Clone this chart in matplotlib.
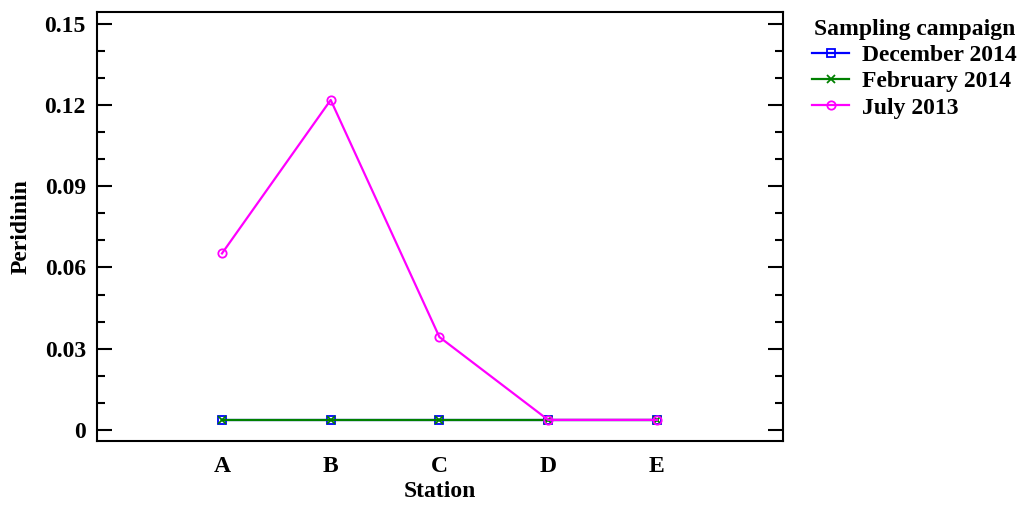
import matplotlib.pyplot as plt
from matplotlib.ticker import MultipleLocator

stations = ['A', 'B', 'C', 'D', 'E']
dec_2014 = [0.0037, 0.0037, 0.0037, 0.0037, 0.0037]
feb_2014 = [0.0037, 0.0037, 0.0037, 0.0037, 0.0037]
jul_2013 = [0.0652, 0.1219, 0.0343, 0.0037, 0.0037]

plt.rcParams['font.family'] = ['Liberation Serif', 'DejaVu Serif']
plt.rcParams['font.weight'] = 'bold'

fig = plt.figure(figsize=(10.27, 5.08), dpi=100)
ax = fig.add_axes([0.0944, 0.1319, 0.668, 0.8445])

x = list(range(len(stations)))
ax.plot(x, dec_2014, color='blue', lw=1.6, marker='s', ms=6, mfc='none', mew=1.3, label='December 2014')
ax.plot(x, feb_2014, color='green', lw=1.6, marker='x', ms=6, mew=1.3, label='February 2014')
ax.plot(x, jul_2013, color='magenta', lw=1.6, marker='o', ms=6, mfc='none', mew=1.3, label='July 2013')

ax.set_xlim(-1.15, 5.16)
ax.set_ylim(-0.0041, 0.1544)
ax.set_xticks(x)
ax.set_xticklabels(stations)
ax.yaxis.set_major_locator(MultipleLocator(0.03))
ax.yaxis.set_minor_locator(MultipleLocator(0.01))
ax.yaxis.set_major_formatter(plt.FuncFormatter(lambda v, p: '0' if abs(v) < 1e-9 else ('%.2f' % v)))

ax.tick_params(axis='y', which='major', direction='in', length=11, width=1.5, right=True, labelsize=17, pad=8)
ax.tick_params(axis='y', which='minor', direction='in', length=6, width=1.5, right=True)
ax.tick_params(axis='x', length=0, labelsize=17, pad=11)
for s in ax.spines.values():
    s.set_linewidth(1.5)

ax.set_xlabel('Station', fontsize=17, fontweight='bold', labelpad=3)
ax.set_ylabel('Peridinin', fontsize=17, fontweight='bold', labelpad=9)

leg = ax.legend(loc='upper left', bbox_to_anchor=(1.028, 1.006), frameon=False, fontsize=17,
                title='Sampling campaign', title_fontproperties={'size': 17, 'weight': 'bold'},
                handlelength=1.6, handletextpad=0.55, labelspacing=0.2, borderaxespad=0)

fig.savefig('out.png', dpi=100)
